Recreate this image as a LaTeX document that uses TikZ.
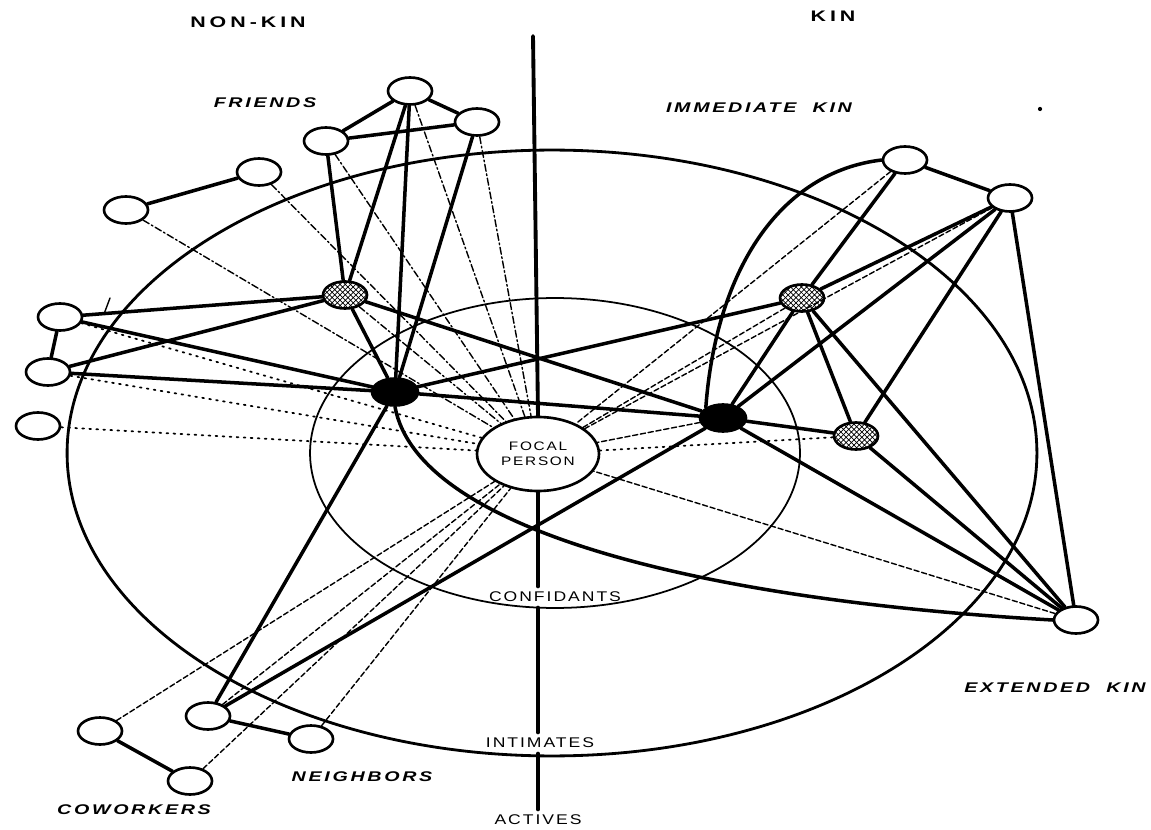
\documentclass[tikz,border=0pt]{standalone}
\usepackage{fontspec}
\setmainfont{Liberation Sans}
\newfontfamily\headfont[FakeStretch=1.4,LetterSpace=26]{Liberation Sans}
\newfontfamily\grpfont[FakeStretch=1.4,LetterSpace=19]{Liberation Sans}
\newfontfamily\ringfont[FakeStretch=1.25,LetterSpace=14]{Liberation Sans}
\usetikzlibrary{shapes.geometric,patterns}
\begin{document}
\begin{tikzpicture}[x=0.02cm,y=-0.02cm,line join=round,line cap=round,
  person/.style={ellipse,draw,line width=1.5pt,inner sep=0pt,minimum width=0.88cm,minimum height=0.54cm,fill=white},
  hatched/.style={person,preaction={fill=white},pattern=crosshatch},
  core/.style={person,fill=black,minimum width=0.92cm},
  tie/.style={line width=2pt},
  dashtie/.style={line width=0.8pt,dash pattern=on 4pt off 1.5pt on 1pt off 1.5pt},
  dottie/.style={line width=1pt,dash pattern=on 1pt off 3pt},
  kintie/.style={line width=0.8pt,dash pattern=on 3pt off 1.5pt},
  ring/.style={line width=1.6pt},
  axis/.style={line width=2.2pt},
  head/.style={font=\headfont\bfseries\fontsize{8.7}{10}\selectfont},
  group/.style={font=\grpfont\bfseries\itshape\fontsize{8}{9}\selectfont},
  ringlabel/.style={font=\ringfont\fontsize{8}{9}\selectfont,inner sep=3pt}]
\useasboundingbox (0,0) rectangle (1151,830);
\draw[ring] (552,453) ellipse [x radius=9.7cm, y radius=6.06cm];
\draw[line width=1pt] (555,453) ellipse [x radius=4.9cm, y radius=3.1cm];
\node[head] (nonkin) at (248,22) {NON-KIN};
\node[head] (kin) at (833,16) {KIN};
\node[group] (friends) at (265,103) {FRIENDS};
\node[group] (immkin) at (759,108) {IMMEDIATE\ \ KIN};
\node[group] (extkin) at (1055,688) {EXTENDED\ \ KIN};
\node[group] (neighbors) at (362,777) {NEIGHBORS};
\node[group] (coworkers) at (134,810) {COWORKERS};
\node[ringlabel] (confid) at (555,597) {CONFIDANTS};
\node[ringlabel] (intim) at (540,743) {INTIMATES};
\node[ringlabel] (activ) at (538,820) {ACTIVES};
\node[person,minimum width=2.44cm,minimum height=1.48cm,align=center,font=\ringfont\fontsize{7}{8.5}\selectfont] (focal) at (538,454) {FOCAL\\PERSON};
\coordinate (axtop) at (533,36);
\draw[axis] (axtop) -- (focal.north);
\draw[axis] (focal.south) -- (focal.south |- confid.north);
\draw[axis] (focal.south |- confid.south) -- (focal.south |- intim.north);
\draw[axis] (focal.south |- intim.south) -- (focal.south |- activ.north);
\node[person] (fr1) at (410,91) {};
\node[person] (fr2) at (326,141) {};
\node[person] (fr3) at (477,122) {};
\node[person] (nk1) at (259,172) {};
\node[person] (nk2) at (126,210) {};
\node[person] (nk3) at (60,317) {};
\node[person] (nk4) at (48,372) {};
\node[person] (nk5) at (38,426) {};
\node[hatched] (hnk) at (345,295) {};
\node[core] (bnk) at (395,392) {};
\node[person] (nb1) at (208,716) {};
\node[person] (nb2) at (311,739) {};
\node[person] (cw1) at (100,731) {};
\node[person] (cw2) at (190,781) {};
\node[person] (ik1) at (905,160) {};
\node[person] (ik2) at (1010,198) {};
\node[hatched] (hik) at (802,298) {};
\node[core] (bik) at (723,418) {};
\node[hatched] (hik2) at (856,436) {};
\node[person] (ek) at (1076,620) {};
\foreach \a/\b in {fr1/fr2,fr1/fr3,fr2/fr3,fr1/hnk,fr2/hnk,fr1/bnk,fr3/bnk,hnk/bnk,nk1/nk2,nk3/nk4,nk3/hnk,nk4/hnk,nk3/bnk,nk4/bnk,hnk/bik,bnk/hik,bnk/bik,bnk/nb1,nb1/bik,nb1/nb2,cw1/cw2,ik1/ik2,ik1/hik,ik2/hik,ik2/bik,ik2/hik2,ik2/ek,hik/bik,hik/hik2,hik/ek,bik/hik2,bik/ek,hik2/ek}
  \draw[tie] (\a) -- (\b);
\draw[tie] (ik1.west) .. controls (780,172) and (716,270) .. (bik.north west);
\draw[tie] (bnk.south) .. controls (418,530) and (700,600) .. (ek.west);
\foreach \n in {fr1,fr2,fr3,nk1,nk2,hnk} \draw[dashtie] (\n) -- (focal);
\foreach \n in {nk3,nk4,nk5,hik2} \draw[dottie] (\n) -- (focal);
\foreach \n in {ik1,ik2,hik,bik,ek,nb1,nb2,cw1,cw2} \draw[kintie] (\n) -- (focal);
\draw[line width=0.8pt] (110,298) -- (104,314);
\fill (1040,109) circle (1.2pt);
\end{tikzpicture}
\end{document}
